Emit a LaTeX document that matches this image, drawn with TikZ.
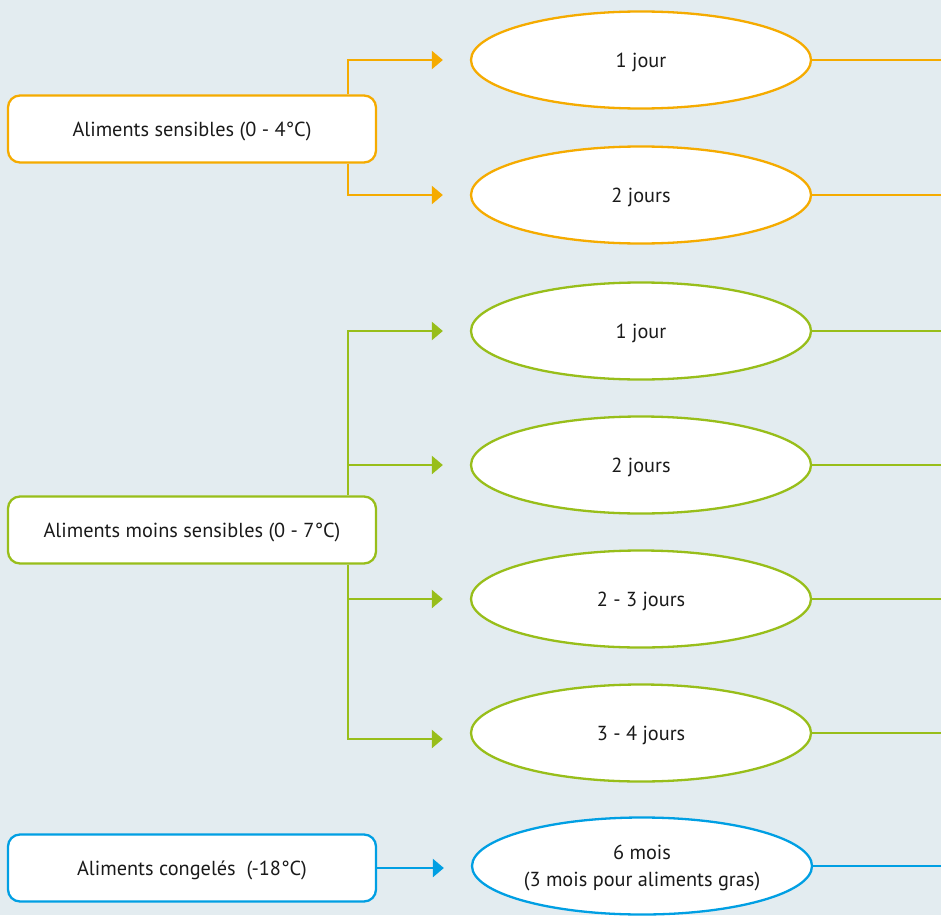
\documentclass[tikz,border=0pt]{standalone}
\usepackage{fontspec}
\setmainfont{PT Sans}
\usetikzlibrary{shapes.geometric,arrows.meta}
\definecolor{bg}{HTML}{E3ECF0}
\definecolor{corange}{HTML}{F5AB00}
\definecolor{cgreen}{HTML}{98BE1A}
\definecolor{cblue}{HTML}{009FE3}
\definecolor{ctext}{HTML}{1A1A1A}
\tikzset{
  catbox/.style={draw=#1, fill=white, line width=2.3pt, rounded corners=12pt,
    minimum width=368pt, minimum height=67pt, inner sep=0pt, text=ctext,
    text depth=0pt, font=\fontsize{20.3}{27}\selectfont},
  durell/.style={draw=#1, fill=white, line width=2.3pt, ellipse,
    minimum width=340pt, minimum height=97pt, inner sep=0pt, text=ctext, align=center,
    text depth=0pt, font=\fontsize{20.3}{27}\selectfont},
  conn/.style={draw=#1, line width=2.3pt},
  arr/.style={draw=#1, line width=2.3pt, -{Triangle[length=11pt,width=18pt]}, shorten >=27pt}
}
\begin{document}
\begin{tikzpicture}[x=1pt,y=-1pt]
\fill[bg] (0,0) rectangle (941,915);
\useasboundingbox (0,0) rectangle (941,915);
\coordinate (T) at (348,0);
\coordinate (R) at (941,0);
% orange
\node[catbox=corange] (b1) at (192,129) {Aliments sensibles (0 - 4°C)};
\node[durell=corange] (o1) at (641,60) {1 jour};
\node[durell=corange] (o2) at (641,195) {2 jours};
\draw[arr=corange] (b1.north -| T) |- (o1.west);
\draw[arr=corange] (b1.south -| T) |- (o2.west);
\draw[conn=corange] (o1.east) -- (o1.east -| R);
\draw[conn=corange] (o2.east) -- (o2.east -| R);
% green
\node[catbox=cgreen] (b2) at (192,530) {Aliments moins sensibles (0 - 7°C)};
\node[durell=cgreen] (g1) at (641,331) {1 jour};
\node[durell=cgreen] (g2) at (641,465) {2 jours};
\node[durell=cgreen] (g3) at (641,599) {2 - 3 jours};
\node[durell=cgreen] (g4) at (641,733) {3 - 4 jours};
\draw[arr=cgreen] (b2.north -| T) |- (g1.west);
\draw[arr=cgreen] (T |- g2.west) -- (g2.west);
\draw[arr=cgreen] (b2.south -| T) |- ([yshift=-6pt]g4.west);
\draw[arr=cgreen] (T |- g3.west) -- (g3.west);
\draw[conn=cgreen] (g1.east) -- (g1.east -| R);
\draw[conn=cgreen] (g2.east) -- (g2.east -| R);
\draw[conn=cgreen] (g3.east) -- (g3.east -| R);
\draw[conn=cgreen] (g4.east) -- (g4.east -| R);
% blue
\node[catbox=cblue] (b3) at (192,868) {Aliments congelés\ \ (-18°C)};
\node[durell=cblue] (c1) at (642,866) {6 mois\\(3 mois pour aliments gras)};
\draw[arr=cblue] (b3.east) -- (b3.east -| c1.west);
\draw[conn=cblue] (c1.east) -- (c1.east -| R);
\end{tikzpicture}
\end{document}
